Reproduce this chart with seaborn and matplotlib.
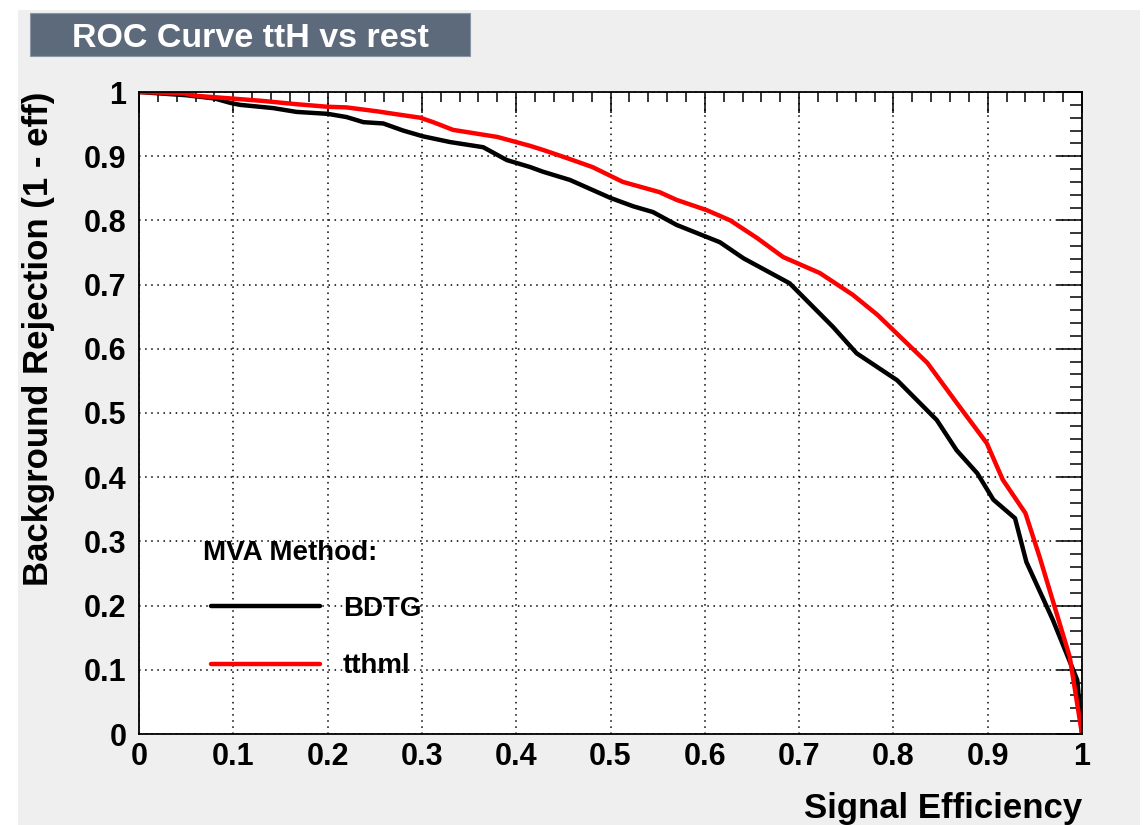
import pandas as pd
import numpy as np
import matplotlib
matplotlib.use("Agg")
import matplotlib.pyplot as plt
import seaborn as sns
from matplotlib.patches import Rectangle
from matplotlib.ticker import MultipleLocator

# ROC points
bdtg_eff = [0, 0.05, 0.08, 0.097, 0.107, 0.142, 0.167, 0.2, 0.22, 0.238, 0.259, 0.28,
            0.301, 0.33, 0.365, 0.39, 0.415, 0.428, 0.457, 0.5, 0.524, 0.545, 0.57,
            0.616, 0.641, 0.69, 0.736, 0.761, 0.804, 0.846, 0.867, 0.889, 0.906, 0.929,
            0.941, 0.969, 0.995, 1.0]
bdtg_rej = [1, 0.995, 0.99, 0.983, 0.98, 0.975, 0.969, 0.966, 0.961, 0.953, 0.951, 0.94,
            0.931, 0.922, 0.914, 0.894, 0.883, 0.876, 0.863, 0.835, 0.822, 0.813, 0.793,
            0.766, 0.741, 0.702, 0.634, 0.593, 0.551, 0.489, 0.442, 0.406, 0.365, 0.336,
            0.268, 0.178, 0.084, 0.0]

tthml_eff = [0, 0.047, 0.061, 0.097, 0.132, 0.167, 0.2, 0.22, 0.252, 0.27, 0.298, 0.312,
             0.333, 0.38, 0.415, 0.428, 0.454, 0.481, 0.513, 0.552, 0.57, 0.602, 0.627,
             0.655, 0.683, 0.722, 0.757, 0.783, 0.836, 0.867, 0.899, 0.916, 0.94, 0.955,
             0.987, 1.0]
tthml_rej = [1, 0.998, 0.994, 0.99, 0.986, 0.981, 0.977, 0.976, 0.97, 0.966, 0.96, 0.953,
             0.941, 0.93, 0.916, 0.91, 0.897, 0.883, 0.86, 0.844, 0.832, 0.816, 0.80,
             0.773, 0.743, 0.718, 0.684, 0.653, 0.578, 0.516, 0.453, 0.396, 0.344, 0.276,
             0.12, 0.0]

methods = ["BDTG", "tthml"]
colors = {"BDTG": "black", "tthml": "#ff0000"}

df = pd.concat([
    pd.DataFrame({"eff": bdtg_eff, "rej": bdtg_rej, "method": "BDTG"}),
    pd.DataFrame({"eff": tthml_eff, "rej": tthml_rej, "method": "tthml"}),
])

sns.set_theme(style="white")
plt.rcParams["font.family"] = ["Liberation Sans", "DejaVu Sans"]
plt.rcParams["font.weight"] = "bold"
plt.rcParams["text.color"] = "black"
plt.rcParams["axes.labelcolor"] = "black"

fig = plt.figure(figsize=(11.46, 8.25), dpi=100)
fig.patch.set_facecolor("white")
# grey canvas like the ROOT pad
fig.patches.append(Rectangle((18 / 1146, 0), 1122 / 1146, 815 / 825,
                             transform=fig.transFigure, facecolor="#efefef",
                             edgecolor="none", zorder=-10))

ax = fig.add_axes([139 / 1146, 1 - 734 / 825, 943 / 1146, 642 / 825])
ax.set_facecolor("white")

sns.lineplot(data=df, x="eff", y="rej", hue="method", hue_order=methods,
             palette=colors, estimator=None, sort=False, linewidth=3.2, ax=ax)

ax.set_xlim(0, 1)
ax.set_ylim(0, 1)
ax.xaxis.set_major_locator(MultipleLocator(0.1))
ax.xaxis.set_minor_locator(MultipleLocator(0.02))
ax.yaxis.set_major_locator(MultipleLocator(0.1))
ax.yaxis.set_minor_locator(MultipleLocator(0.02))
ax.xaxis.set_major_formatter(lambda v, p: f"{v:g}")
ax.yaxis.set_major_formatter(lambda v, p: f"{v:g}")

ax.tick_params(axis="both", which="both", direction="in", top=True, right=True,
               color="black", labelcolor="black", width=1.1, labelsize=22)
ax.tick_params(axis="y", which="major", length=18, pad=9)
ax.tick_params(axis="y", which="minor", length=9)
ax.tick_params(axis="x", which="major", length=15, pad=6)
ax.tick_params(axis="x", which="minor", length=7.5)
for lab in ax.get_xticklabels() + ax.get_yticklabels():
    lab.set_fontweight("bold")

ax.grid(True, which="major", color="black", linestyle=(0, (1, 3)), linewidth=1.1)
for s in ax.spines.values():
    s.set_color("black")
    s.set_linewidth(1.3)

ax.set_xlabel("Signal Efficiency", fontsize=25, fontweight="bold", loc="right")
ax.set_ylabel("Background Rejection (1 - eff)", fontsize=25, fontweight="bold", loc="top")
ax.xaxis.set_label_coords(1.0, -0.090)
ax.yaxis.set_label_coords(-0.089, 1.0)

ax.text(0.068, 0.282, "MVA Method:", transform=ax.transAxes, fontsize=20,
        fontweight="bold", ha="left", va="center")
leg = ax.legend(loc="upper left", bbox_to_anchor=(0.0763, 0.2155),
                frameon=False, fontsize=20, handlelength=3.92, borderaxespad=0,
                handletextpad=0.83, labelspacing=1.14, borderpad=0)
for t in leg.get_texts():
    t.set_fontweight("bold")
for h in leg.get_lines():
    h.set_linewidth(3.2)

# title box
fig.patches.append(Rectangle((30 / 1146, 1 - 56 / 825), 440 / 1146, 43 / 825,
                             transform=fig.transFigure, facecolor="#5d6a7c",
                             edgecolor="#8a95a3", linewidth=0.8, zorder=1))
fig.text(250 / 1146, 1 - 47 / 825, "ROC Curve ttH vs rest", color="white",
         fontsize=24.5, fontweight="bold", ha="center", va="baseline", zorder=2)

fig.savefig("out.png", dpi=100)
